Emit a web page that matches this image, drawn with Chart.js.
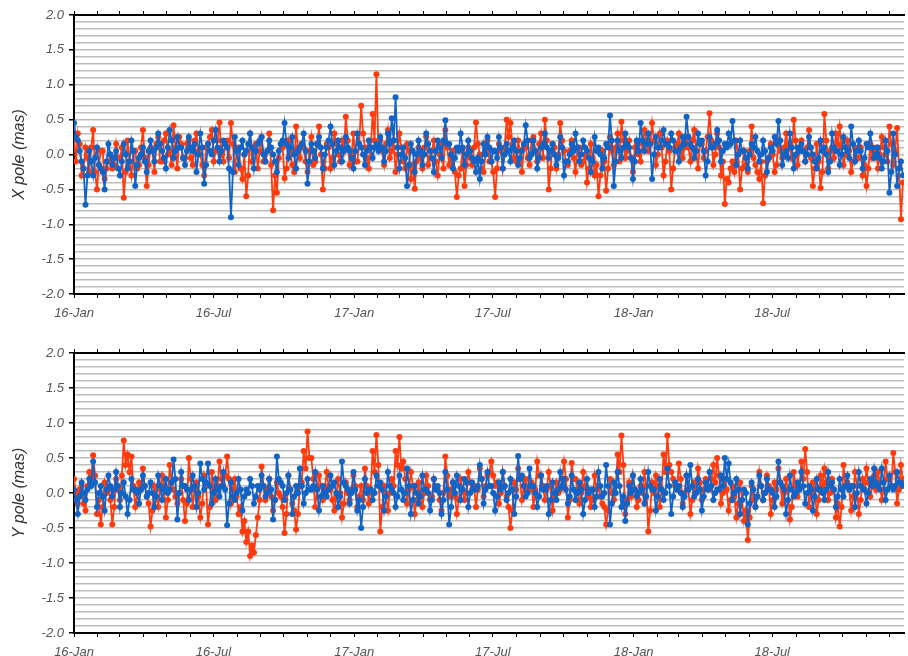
<!DOCTYPE html>
<html>
<head>
<meta charset="utf-8">
<title>X / Y pole residuals</title>
<script src="https://cdn.jsdelivr.net/npm/chart.js@4.4.1/dist/chart.umd.min.js"></script>
<style>
  body { margin: 0; background: #fff; overflow: hidden; }
  canvas { display: block; }
</style>
</head>
<body>
<canvas id="xChart" width="908" height="328"></canvas>
<canvas id="yChart" width="908" height="328"></canvas>
<script>
// main samples every 5 days from 2016-01-01, "mid" samples 2.5 days later
var step_days = 5;
var last_day = 1084;
var x_tick_labels = ["16-Jan", "16-Jul", "17-Jan", "17-Jul", "18-Jan", "18-Jul"];
var y_min = -2.0;
var y_max = 2.0;

// X pole (mas)
var x_red = [
  0.25, 0.30, -0.30, 0.10, -0.25, 0.35, -0.50, 0.05, -0.35, -0.10,
  -0.20, 0.15, -0.05, -0.62, 0.20, -0.30, 0.05, -0.15, 0.35, -0.45,
  0.10, -0.25, 0.25, -0.10, 0.30, 0.05, 0.42, -0.20, 0.15, -0.05,
  0.20, -0.15, 0.30, 0.00, -0.30, 0.15, 0.35, 0.05, 0.46, -0.10,
  0.20, 0.45, -0.25, 0.10, -0.35, -0.60, 0.30, 0.05, -0.20, 0.25,
  -0.10, 0.30, -0.80, -0.55, 0.15, -0.34, 0.20, -0.15, 0.40, -0.05,
  0.10, -0.25, 0.25, -0.10, 0.40, -0.50, 0.15, -0.20, 0.30, 0.00,
  0.20, 0.54, -0.15, 0.30, -0.10, 0.70, 0.10, -0.20, 0.58, 1.15,
  0.20, -0.15, 0.35, 0.05, -0.25, 0.30, -0.10, 0.15, -0.35, -0.49,
  0.10, -0.20, 0.25, -0.05, 0.20, -0.30, 0.15, 0.35, -0.15, 0.05,
  -0.61, -0.20, -0.45, 0.10, -0.15, 0.46, 0.00, -0.25, 0.20, -0.10,
  -0.61, 0.15, -0.20, 0.50, 0.45, -0.05, 0.20, -0.25, 0.10, -0.15,
  0.25, -0.10, 0.30, 0.50, -0.50, 0.15, -0.20, 0.45, 0.05, -0.15,
  0.20, -0.25, 0.10, -0.10, -0.40, 0.15, -0.30, -0.60, 0.05, -0.52,
  0.25, -0.15, 0.30, 0.47, -0.05, 0.20, -0.25, 0.15, -0.10, 0.35,
  0.05, 0.45, -0.15, 0.30, -0.30, 0.20, -0.50, 0.10, 0.30, -0.05,
  0.25, -0.10, 0.35, -0.20, 0.15, 0.05, 0.59, -0.15, 0.30, -0.30,
  -0.71, -0.40, -0.10, 0.20, -0.50, 0.05, -0.25, 0.40, -0.15, -0.35,
  -0.70, -0.10, 0.15, -0.25, 0.20, -0.05, 0.30, 0.10, 0.50, -0.15,
  0.20, -0.10, 0.35, -0.45, 0.15, -0.48, 0.58, -0.20, 0.10, 0.30,
  0.40, -0.15, 0.20, -0.25, 0.10, -0.05, -0.30, -0.45, 0.15, 0.05,
  -0.20, 0.25, 0.00, 0.40, -0.15, 0.38, -0.93
];
var x_red_mid = [
  -0.10, 0.15, -0.20, -0.05, 0.10, -0.25, -0.15, 0.05, -0.20, 0.00,
  -0.15, -0.05, 0.10, -0.25, -0.10, 0.05, -0.20, 0.10, -0.05, -0.15,
  0.05, 0.15, -0.10, 0.20, 0.00, -0.15, 0.10, 0.25, -0.05, 0.15,
  -0.05, 0.20, 0.05, -0.15, 0.10, 0.25, -0.10, 0.20, 0.00, 0.15,
  -0.05, 0.15, 0.05, -0.20, 0.00, -0.30, -0.10, 0.15, 0.05, -0.10,
  0.05, -0.15, -0.30, -0.05, 0.10, -0.20, 0.05, -0.25, 0.10, 0.15,
  -0.10, 0.05, -0.15, 0.15, 0.00, -0.20, 0.10, -0.05, 0.15, -0.10,
  0.05, 0.20, 0.00, -0.10, 0.15, 0.30, -0.05, 0.10, 0.20, 0.10,
  0.05, 0.15, -0.05, 0.20, 0.00, 0.10, -0.20, 0.05, -0.15, -0.10,
  -0.05, 0.10, -0.15, 0.05, -0.10, 0.00, -0.20, 0.10, -0.05, -0.25,
  -0.30, 0.05, -0.15, -0.05, 0.10, 0.15, -0.20, 0.05, -0.10, -0.25,
  -0.20, 0.05, 0.10, 0.25, 0.15, -0.10, 0.05, 0.10, -0.05, 0.20,
  0.05, 0.15, -0.05, 0.20, -0.20, 0.10, 0.00, 0.20, -0.10, 0.05,
  -0.05, 0.10, -0.15, 0.00, -0.20, -0.05, -0.15, -0.30, -0.10, -0.20,
  0.05, 0.10, -0.10, 0.20, 0.05, -0.05, 0.10, 0.00, 0.15, 0.20,
  0.15, 0.20, 0.00, 0.10, -0.10, 0.05, -0.20, 0.15, 0.05, 0.10,
  0.10, 0.20, 0.05, 0.15, -0.05, 0.25, 0.20, 0.00, 0.10, -0.10,
  -0.35, -0.20, -0.25, 0.00, -0.20, -0.15, 0.05, -0.05, -0.25, -0.10,
  -0.30, -0.05, 0.00, -0.15, 0.05, 0.10, 0.15, -0.05, 0.20, 0.05,
  0.05, 0.10, -0.05, -0.20, -0.10, -0.25, 0.20, 0.05, -0.05, 0.15,
  0.10, 0.00, 0.05, -0.10, -0.05, 0.10, -0.15, -0.20, -0.05, 0.10,
  0.00, 0.10, -0.10, 0.15, 0.05, -0.20, -0.40
];
var x_blue = [
  0.45, 0.20, -0.10, -0.72, 0.05, -0.30, 0.10, -0.20, -0.50, 0.15,
  -0.15, 0.05, -0.30, 0.15, -0.20, 0.20, -0.45, -0.05, 0.10, -0.25,
  0.20, -0.10, 0.30, 0.05, -0.20, 0.35, -0.05, 0.25, 0.10, -0.15,
  0.25, 0.05, -0.25, 0.30, -0.42, 0.15, 0.00, 0.35, -0.10, 0.20,
  0.10, -0.90, 0.25, -0.15, 0.20, 0.05, 0.30, -0.20, 0.15, 0.25,
  -0.10, 0.20, 0.00, -0.25, 0.15, 0.45, -0.05, 0.25, -0.20, 0.10,
  0.30, -0.42, 0.15, -0.05, 0.25, -0.20, 0.10, 0.40, -0.15, 0.20,
  -0.10, 0.25, 0.05, -0.20, 0.30, 0.10, -0.15, 0.20, -0.05, 0.15,
  0.25, -0.10, 0.30, 0.52, 0.82, -0.20, 0.10, -0.45, 0.15, -0.25,
  0.20, -0.15, 0.30, 0.05, -0.25, 0.20, -0.05, 0.49, 0.15, -0.20,
  0.10, 0.30, -0.15, 0.20, -0.05, -0.25, -0.35, 0.15, 0.25, -0.10,
  0.05, 0.25, -0.20, 0.15, -0.10, 0.20, -0.15, 0.05, 0.42, -0.05,
  0.20, -0.20, 0.10, 0.30, -0.05, 0.15, -0.15, 0.25, -0.30, -0.10,
  0.15, 0.30, -0.10, 0.20, 0.05, -0.25, 0.25, 0.10, -0.20, 0.15,
  0.56, -0.45, 0.20, -0.05, 0.30, 0.10, -0.35, 0.20, 0.45, 0.05,
  0.30, -0.35, 0.25, 0.10, 0.35, 0.15, 0.30, 0.05, -0.10, 0.25,
  0.54, 0.15, -0.05, 0.30, 0.20, -0.30, 0.25, 0.10, 0.35, -0.10,
  0.15, 0.30, 0.48, -0.15, 0.20, 0.05, -0.20, 0.15, 0.25, -0.10,
  0.20, -0.25, 0.10, 0.25, 0.48, -0.15, 0.05, 0.30, -0.20, 0.10,
  0.15, -0.10, 0.25, 0.00, -0.20, 0.20, 0.10, -0.25, 0.30, 0.05,
  -0.15, 0.25, 0.05, 0.40, -0.10, 0.20, -0.20, 0.15, 0.30, -0.05,
  0.10, -0.20, 0.20, -0.55, 0.30, -0.45, -0.10
];
var x_blue_mid = [
  0.25, 0.05, -0.20, -0.30, -0.10, -0.05, -0.15, -0.25, -0.10, 0.00,
  -0.05, -0.20, -0.10, 0.00, -0.10, 0.05, -0.15, 0.00, -0.10, 0.05,
  0.05, 0.10, 0.15, -0.05, 0.10, 0.20, 0.05, 0.10, -0.05, 0.05,
  0.10, 0.15, 0.00, 0.10, -0.15, 0.05, 0.20, 0.10, 0.05, 0.15,
  -0.20, -0.25, 0.05, 0.10, 0.00, 0.15, 0.10, 0.05, 0.20, 0.00,
  0.05, 0.10, -0.10, 0.05, 0.20, 0.15, 0.10, 0.00, 0.05, 0.15,
  0.05, -0.10, 0.05, 0.15, 0.10, 0.00, 0.20, 0.15, 0.05, 0.10,
  0.05, 0.10, -0.05, 0.05, 0.15, 0.00, 0.05, 0.10, 0.10, 0.05,
  0.10, 0.05, 0.15, 0.20, 0.10, 0.00, -0.05, -0.15, 0.05, 0.00,
  0.05, 0.00, 0.15, -0.05, 0.05, 0.10, 0.20, 0.15, 0.00, -0.05,
  0.05, 0.10, 0.00, 0.05, -0.10, -0.05, -0.10, 0.00, 0.10, 0.05,
  -0.05, 0.10, 0.00, 0.05, 0.10, 0.05, -0.05, 0.15, 0.20, 0.00,
  0.05, -0.05, 0.15, 0.10, 0.05, 0.00, -0.05, 0.10, -0.10, 0.00,
  0.05, 0.10, 0.00, 0.10, -0.05, -0.10, 0.05, 0.00, -0.05, 0.10,
  0.20, -0.10, 0.05, 0.10, 0.15, -0.05, -0.10, 0.05, 0.20, 0.15,
  0.15, 0.00, 0.10, 0.20, 0.15, 0.10, 0.20, 0.05, 0.10, 0.15,
  0.25, 0.10, 0.05, 0.15, 0.05, -0.10, 0.10, 0.15, 0.20, 0.05,
  0.10, 0.15, 0.20, 0.00, 0.05, -0.05, 0.00, 0.10, 0.05, 0.00,
  0.05, -0.05, 0.05, 0.15, 0.20, 0.00, -0.05, 0.10, 0.00, 0.05,
  0.05, 0.00, 0.10, -0.10, -0.05, 0.05, 0.00, -0.10, 0.10, 0.05,
  0.00, 0.10, -0.05, 0.15, 0.05, 0.05, -0.05, 0.10, 0.10, 0.00,
  -0.05, -0.10, 0.05, -0.25, 0.00, -0.20, -0.30
];

// Y pole (mas)
var y_red = [
  0.20, -0.15, 0.10, -0.25, 0.30, 0.54, -0.30, -0.45, 0.15, 0.05,
  -0.45, 0.20, -0.10, 0.75, 0.55, 0.52, -0.20, 0.15, 0.35, -0.05,
  -0.48, 0.10, -0.20, 0.25, -0.35, 0.40, 0.05, -0.15, 0.20, -0.40,
  0.50, -0.20, 0.15, -0.35, 0.25, -0.45, 0.30, -0.10, 0.45, 0.10,
  0.52, -0.15, 0.20, -0.30, -0.55, -0.70, -0.90, -0.85, -0.35, 0.38,
  -0.10, 0.20, -0.25, 0.15, -0.05, -0.57, 0.25, -0.15, -0.52, 0.10,
  0.60, 0.88, 0.50, -0.20, 0.25, -0.10, 0.30, 0.05, -0.25, 0.20,
  -0.35, 0.15, -0.10, 0.25, -0.20, 0.10, 0.35, -0.15, 0.60, 0.83,
  -0.55, 0.10, -0.25, 0.20, 0.60, 0.80, 0.45, -0.15, 0.30, -0.30,
  0.15, -0.20, 0.25, -0.10, 0.20, 0.05, -0.25, 0.52, -0.05, 0.15,
  -0.30, 0.20, -0.10, 0.30, 0.05, -0.20, 0.35, -0.05, 0.25, 0.45,
  0.10, -0.15, 0.30, -0.05, -0.50, 0.15, 0.35, -0.10, 0.20, 0.05,
  -0.20, 0.45, 0.25, -0.10, 0.30, -0.25, 0.15, 0.05, 0.45, -0.35,
  0.43, 0.20, -0.15, 0.30, 0.05, -0.20, 0.25, 0.10, -0.15, -0.45,
  0.20, -0.10, 0.55, 0.82, -0.30, 0.15, 0.25, -0.20, 0.10, 0.30,
  -0.55, 0.15, 0.25, -0.20, 0.55, 0.82, 0.30, 0.10, 0.42, -0.15,
  0.25, -0.30, 0.15, 0.35, -0.10, 0.20, 0.05, 0.40, 0.50, -0.15,
  0.20, -0.25, 0.10, -0.35, 0.15, -0.40, -0.67, 0.10, -0.20, 0.30,
  -0.10, 0.25, -0.30, 0.15, 0.35, -0.15, 0.20, -0.38, 0.30, -0.05,
  0.45, 0.63, -0.20, 0.15, -0.30, 0.25, 0.35, -0.10, 0.20, -0.35,
  -0.48, 0.40, 0.15, -0.25, 0.30, -0.30, 0.20, 0.35, -0.05, 0.25,
  0.30, -0.10, 0.45, 0.20, 0.57, -0.15, 0.40
];
var y_red_mid = [
  0.00, 0.05, -0.15, 0.10, 0.20, 0.25, -0.10, -0.20, 0.00, -0.10,
  -0.20, 0.05, 0.25, 0.40, 0.30, 0.10, 0.00, 0.05, 0.10, -0.15,
  -0.25, -0.05, 0.05, 0.10, -0.10, 0.15, -0.05, 0.00, -0.10, -0.15,
  0.20, 0.05, -0.05, -0.15, 0.10, -0.20, 0.05, 0.10, 0.20, 0.25,
  0.20, 0.05, -0.05, -0.20, -0.40, -0.55, -0.75, -0.60, -0.10, 0.10,
  0.05, -0.05, -0.10, 0.00, -0.20, -0.30, 0.05, -0.25, -0.30, 0.15,
  0.35, 0.50, 0.20, 0.05, 0.10, 0.05, 0.10, -0.10, -0.05, 0.00,
  -0.15, 0.00, 0.05, 0.10, -0.05, -0.10, 0.10, 0.05, 0.30, 0.40,
  -0.20, -0.05, 0.00, 0.10, 0.40, 0.35, 0.20, 0.05, 0.10, -0.10,
  -0.05, 0.00, 0.10, -0.05, 0.05, -0.10, 0.00, 0.25, 0.05, -0.05,
  -0.10, 0.05, 0.00, 0.15, 0.10, 0.05, 0.20, 0.10, 0.30, 0.25,
  0.15, 0.00, 0.10, -0.20, -0.25, 0.05, 0.20, 0.10, 0.05, 0.15,
  0.05, 0.25, 0.10, 0.05, 0.10, -0.05, 0.00, 0.20, 0.20, -0.10,
  0.20, 0.05, 0.00, 0.10, -0.05, -0.10, 0.05, -0.05, -0.20, -0.25,
  0.00, 0.10, 0.30, 0.40, -0.10, -0.05, 0.05, -0.10, 0.00, 0.10,
  -0.25, 0.00, 0.10, 0.05, 0.30, 0.40, 0.20, 0.05, 0.20, 0.00,
  0.05, -0.10, 0.00, 0.15, 0.05, 0.10, 0.20, 0.15, 0.25, 0.00,
  0.05, -0.10, -0.05, -0.15, -0.10, -0.25, -0.35, -0.10, -0.05, 0.10,
  0.00, 0.10, -0.10, 0.05, 0.15, 0.00, 0.05, -0.20, 0.10, 0.05,
  0.20, 0.30, 0.00, 0.05, -0.10, 0.10, 0.15, 0.00, 0.05, -0.15,
  -0.20, 0.10, 0.05, -0.05, 0.10, -0.10, 0.05, 0.15, 0.10, 0.05,
  0.15, 0.05, 0.20, 0.10, 0.30, 0.05, 0.20
];
var y_blue = [
  0.05, -0.30, 0.15, -0.10, 0.20, 0.45, -0.20, 0.10, -0.25, 0.25,
  -0.05, 0.30, -0.20, 0.15, -0.30, 0.20, 0.05, -0.15, 0.25, -0.05,
  0.15, -0.20, 0.25, -0.10, 0.20, 0.05, 0.48, -0.38, 0.30, 0.10,
  -0.10, 0.25, -0.20, 0.42, 0.05, 0.42, -0.15, 0.20, -0.05, 0.30,
  -0.46, 0.15, -0.10, 0.20, -0.25, 0.05, 0.20, -0.15, 0.10, 0.25,
  -0.05, 0.20, -0.38, 0.52, 0.15, -0.10, 0.25, -0.30, 0.10, 0.35,
  -0.15, 0.20, 0.05, 0.30, -0.25, 0.10, -0.05, 0.25, 0.15, -0.20,
  0.45, 0.10, -0.15, 0.30, -0.25, -0.50, 0.20, 0.05, -0.10, 0.25,
  0.15, -0.25, 0.30, 0.05, -0.20, 0.25, -0.10, 0.35, -0.30, 0.10,
  -0.15, 0.25, 0.05, -0.25, 0.20, 0.10, -0.30, 0.30, -0.45, 0.15,
  0.25, -0.10, 0.20, -0.20, 0.15, 0.05, 0.40, -0.15, 0.30, 0.10,
  -0.25, 0.15, 0.30, -0.10, 0.20, -0.30, 0.53, 0.25, -0.05, 0.35,
  0.10, -0.20, 0.25, 0.05, -0.30, 0.15, -0.10, 0.30, 0.20, -0.15,
  0.25, -0.10, 0.15, -0.30, 0.20, 0.05, -0.20, 0.30, -0.05, 0.40,
  -0.45, 0.15, 0.30, -0.20, -0.40, 0.10, 0.25, -0.05, 0.20, -0.15,
  0.30, 0.05, -0.25, 0.20, -0.10, 0.35, -0.30, 0.15, 0.10, -0.20,
  0.25, 0.40, -0.05, 0.20, -0.25, 0.15, 0.30, -0.10, 0.05, 0.25,
  0.50, 0.42, -0.10, 0.20, -0.30, 0.05, -0.45, 0.15, -0.20, 0.25,
  -0.10, 0.20, 0.05, -0.20, 0.45, 0.10, -0.30, 0.25, -0.05, 0.15,
  0.30, -0.15, 0.10, -0.25, 0.20, 0.05, -0.10, 0.30, 0.15, -0.20,
  0.20, -0.05, 0.25, 0.10, -0.20, 0.30, 0.05, -0.15, 0.20, 0.35,
  0.10, 0.35, -0.10, 0.25, 0.05, 0.30, 0.15
];
var y_blue_mid = [
  -0.10, -0.05, 0.00, 0.05, 0.10, 0.15, 0.00, -0.05, 0.05, 0.10,
  0.05, 0.10, 0.00, -0.05, -0.10, 0.05, 0.00, 0.05, 0.10, 0.00,
  0.00, -0.05, 0.10, 0.05, 0.00, 0.15, 0.20, 0.00, 0.10, 0.05,
  0.05, 0.10, 0.00, 0.20, 0.15, 0.10, 0.00, 0.05, 0.10, 0.05,
  -0.15, -0.05, 0.00, 0.05, -0.05, 0.00, 0.10, -0.05, 0.05, 0.10,
  0.00, 0.05, -0.10, 0.20, 0.10, 0.00, 0.05, -0.05, 0.00, 0.10,
  0.00, 0.05, 0.10, 0.05, -0.05, 0.00, 0.05, 0.10, 0.00, -0.05,
  0.15, 0.05, 0.00, 0.05, -0.10, -0.20, 0.00, 0.05, 0.00, 0.10,
  0.05, -0.05, 0.10, 0.00, -0.05, 0.05, 0.00, 0.10, -0.10, 0.00,
  -0.05, 0.05, 0.00, -0.10, 0.05, 0.00, -0.10, 0.05, -0.20, 0.00,
  0.10, 0.05, 0.15, 0.00, 0.05, 0.10, 0.20, 0.05, 0.10, 0.00,
  -0.05, 0.05, 0.10, 0.00, 0.05, -0.05, 0.20, 0.10, 0.00, 0.10,
  0.00, -0.05, 0.05, 0.10, -0.10, 0.00, 0.05, 0.10, 0.05, -0.05,
  0.05, 0.00, 0.05, -0.10, 0.00, 0.05, -0.05, 0.10, 0.00, 0.10,
  -0.15, 0.00, 0.10, -0.05, -0.15, 0.00, 0.05, 0.00, 0.05, -0.05,
  0.10, 0.05, -0.05, 0.05, 0.00, 0.10, -0.05, 0.05, 0.00, -0.05,
  0.05, 0.10, 0.00, 0.05, -0.05, 0.05, 0.10, 0.00, 0.05, 0.10,
  0.20, 0.15, 0.00, 0.05, -0.10, 0.00, -0.15, 0.05, -0.05, 0.10,
  0.00, 0.05, 0.00, -0.05, 0.15, 0.05, -0.10, 0.05, 0.00, 0.05,
  0.10, 0.00, 0.05, -0.05, 0.05, 0.00, 0.05, 0.10, 0.05, -0.05,
  0.05, 0.10, 0.05, 0.10, 0.00, 0.10, 0.05, 0.00, 0.10, 0.15,
  0.05, 0.15, 0.05, 0.10, 0.10, 0.15, 0.10
];

var red_col = "#ff3a0c";
var blue_col = "#1263c6";
var font_family = "'Liberation Sans', Arial, Helvetica, sans-serif";

function to_points(main_vals, mid_vals){
  var pts = [];
  for(var i = 0; i < main_vals.length; i++){
    pts.push({x: i * step_days, y: main_vals[i]});
    if(i < mid_vals.length)
      pts.push({x: i * step_days + step_days / 2, y: mid_vals[i]});
  }
  return pts;
}

// tick at every month start, label only on Jan / Jul
var month_ticks = [];
var month_label = {};
(function(){
  var t0 = Date.UTC(2016, 0, 1);
  var k = 0;
  for(var yr = 2016; yr <= 2018; yr++){
    for(var m = 0; m < 12; m++){
      var d = Math.round((Date.UTC(yr, m, 1) - t0) / 86400000);
      if(d > last_day) continue;
      month_ticks.push(d);
      if(m == 0 || m == 6){
        month_label[d] = x_tick_labels[k];
        k++;
      }
    }
  }
})();

function is_major_y(v){
  return Math.abs(v * 2 - Math.round(v * 2)) < 1e-6;
}

function make_chart(canvas_id, axis_title, red_main, red_mid, blue_main, blue_mid, top_gap, bottom_gap){
  var ctx = document.getElementById(canvas_id).getContext("2d");
  var line_set = function(name, pts, col){
    return {
      label: name,
      data: pts,
      borderColor: col,
      backgroundColor: col,
      pointBackgroundColor: col,
      pointBorderColor: col,
      borderWidth: 1.8,
      pointRadius: 3,
      pointBorderWidth: 0,
      tension: 0
    };
  };

  return new Chart(ctx, {
    type: "line",
    data: {
      // first dataset is drawn on top
      datasets: [
        line_set("blue", to_points(blue_main, blue_mid), blue_col),
        line_set("red", to_points(red_main, red_mid), red_col)
      ]
    },
    options: {
      responsive: false,
      animation: false,
      layout: { padding: 0 },
      plugins: { legend: { display: false }, tooltip: { enabled: false } },
      scales: {
        x: {
          type: "linear",
          position: "bottom",
          min: 0,
          max: last_day,
          afterBuildTicks: function(scale){
            scale.ticks = month_ticks.map(function(d){ return {value: d}; });
          },
          afterFit: function(scale){ scale.height = bottom_gap; },
          grid: { drawOnChartArea: false, drawTicks: true, tickLength: 4, color: "#000", lineWidth: 1 },
          border: { color: "#000", width: 2 },
          ticks: {
            autoSkip: false,
            maxRotation: 0,
            padding: 8,
            color: "#555",
            font: { family: font_family, size: 13, style: "italic" },
            callback: function(v){ return month_label[v] || ""; }
          }
        },
        xTop: {
          type: "linear",
          position: "top",
          min: 0,
          max: last_day,
          afterBuildTicks: function(scale){
            scale.ticks = month_ticks.map(function(d){ return {value: d}; });
          },
          afterFit: function(scale){ scale.height = top_gap; },
          grid: { drawOnChartArea: false, drawTicks: true, tickLength: 4, color: "#000", lineWidth: 1 },
          border: { color: "#000", width: 2 },
          ticks: { display: false }
        },
        y: {
          min: y_min,
          max: y_max,
          afterBuildTicks: function(scale){
            var t = [];
            for(var k = -20; k <= 20; k++) t.push({value: k / 10});
            scale.ticks = t;
          },
          afterFit: function(scale){ scale.width = 74; },
          grid: {
            color: "#bdbdbd",
            lineWidth: 1.5,
            tickLength: 5,
            tickColor: function(c){ return (c.tick && is_major_y(c.tick.value)) ? "#000" : "rgba(0,0,0,0)"; }
          },
          border: { color: "#000", width: 2 },
          ticks: {
            autoSkip: false,
            padding: 5,
            color: "#555",
            font: { family: font_family, size: 13, style: "italic" },
            callback: function(v){ return is_major_y(v) ? v.toFixed(1) : ""; }
          },
          title: {
            display: true,
            text: axis_title,
            color: "#333",
            padding: { top: 10, bottom: 0 },
            font: { family: font_family, size: 16, style: "italic" }
          }
        }
      }
    }
  });
}

make_chart("xChart", "X pole (mas)", x_red, x_red_mid, x_blue, x_blue_mid, 15, 34);
make_chart("yChart", "Y pole (mas)", y_red, y_red_mid, y_blue, y_blue_mid, 25, 23);
</script>
</body>
</html>
